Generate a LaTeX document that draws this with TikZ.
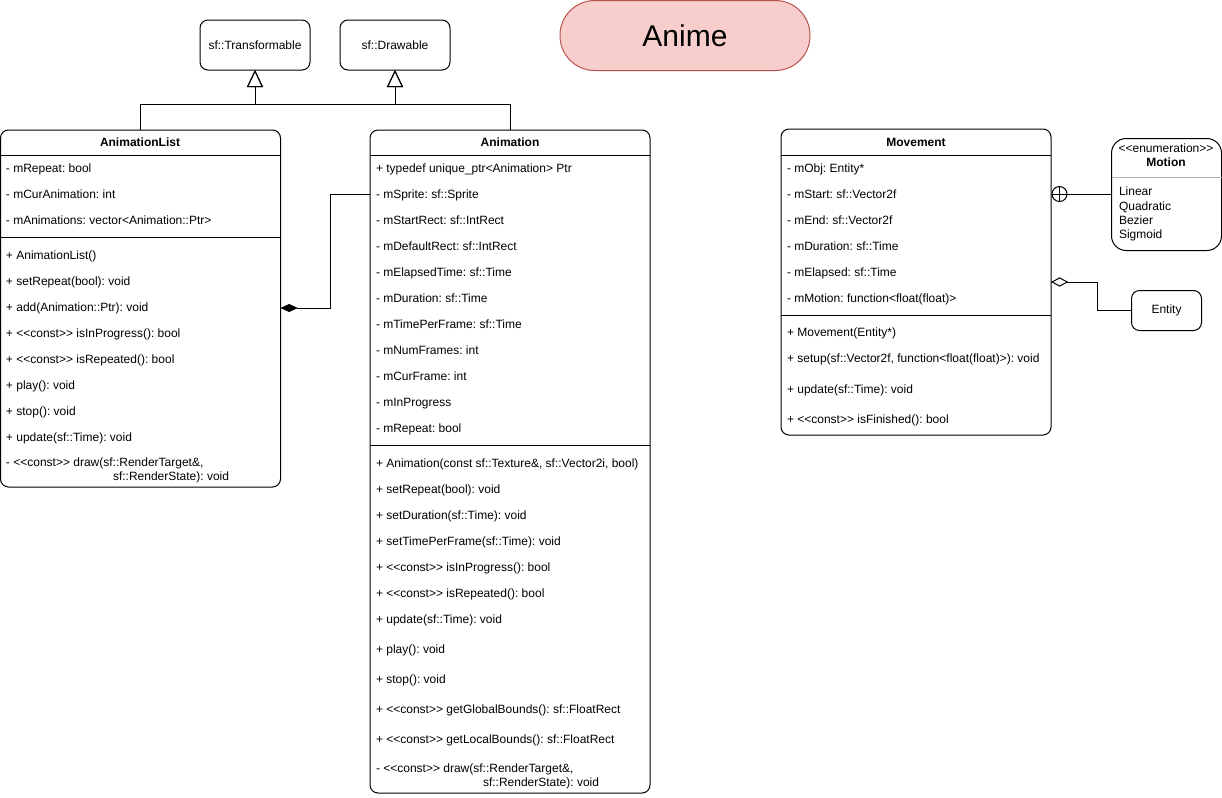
\documentclass[tikz,border=0pt]{standalone}
\usepackage{fontspec}
\setmainfont{Liberation Sans}[Ligatures=TeXOff]
\usetikzlibrary{arrows.meta}
\definecolor{animefill}{HTML}{F8CECC}
\definecolor{animedraw}{HTML}{B85450}
\definecolor{sepgrey}{HTML}{B3B3B3}
\frenchspacing
\begin{document}
\begin{tikzpicture}[x=0.75pt,y=-0.75pt,line width=0.75pt,
  every node/.style={inner sep=0pt,outer sep=0pt},
  boxnode/.style={draw,rounded corners=6pt,anchor=north west,font=\fontsize{9pt}{11pt}\selectfont},
  member/.style={anchor=base west,yshift=-3.3pt,font=\fontsize{9pt}{11pt}\selectfont},
  classtitle/.style={anchor=base,yshift=-3.3pt,font=\fontsize{9pt}{11pt}\selectfont\bfseries},
  inherit/.style={-{Triangle[open,length=12.75pt,width=12pt]}},
  compose/.style={-{Diamond[fill=black,length=13pt,width=6pt]}},
  aggregate/.style={-{Diamond[open,fill=white,length=13pt,width=7pt]}}]
\useasboundingbox (0,0) rectangle (1222,797);

% base classes
\node[boxnode,minimum width=82.5pt,minimum height=37.5pt] (T) at (200,20) {};
\node (Tl) at (T.center) [font=\fontsize{9pt}{11pt}\selectfont] {sf::Transformable};
\node[boxnode,minimum width=82.5pt,minimum height=37.5pt] (D) at (340,20) {};
\node (Dl) at (D.center) [font=\fontsize{9pt}{11pt}\selectfont] {sf::Drawable};

% title
\node[draw=animedraw,fill=animefill,rounded corners=26pt,anchor=north west,minimum width=187.5pt,minimum height=52.5pt] (Anime) at (560,0.5) {};
\node (Animel) at (Anime.center) [font=\fontsize{22.5pt}{26pt}\selectfont] {Anime};

% AnimationList
\node[boxnode,minimum width=210pt,minimum height=267.75pt] (AL) at (0.5,130) {};
\node[classtitle] (ALt) at (140,142) {AnimationList};
\draw (0.5,155) -- (280.5,155);
\draw (0.5,237) -- (280.5,237);
\foreach \t [count=\i] in {{- mRepeat: bool},{- mCurAnimation: int},{- mAnimations: vector<Animation::Ptr>}}
  \node[member] (ALa\i) at (6,142+26*\i) {\t};
\foreach \t [count=\i] in {{+ AnimationList()},{+ setRepeat(bool): void},{+ add(Animation::Ptr): void},{+ <<const>> isInProgress(): bool},{+ <<const>> isRepeated(): bool},{+ play(): void},{+ stop(): void},{+ update(sf::Time): void}}
  \node[member] (ALm\i) at (6,229+26*\i) {\t};
\node[member] (ALm9) at (6,462) {- <<const>> draw(sf::RenderTarget\&,};
\node[member] (ALm10) at (113,476) {sf::RenderState): void};

% Animation
\node[boxnode,minimum width=210pt,minimum height=497.25pt] (A) at (370,130) {};
\node[classtitle] (At) at (510,142) {Animation};
\draw (370,155) -- (650,155);
\draw (370,445) -- (650,445);
\foreach \t [count=\i] in {{+ typedef unique\_ptr<Animation> Ptr},{- mSprite: sf::Sprite},{- mStartRect: sf::IntRect},{- mDefaultRect: sf::IntRect},{- mElapsedTime: sf::Time},{- mDuration: sf::Time},{- mTimePerFrame: sf::Time},{- mNumFrames: int},{- mCurFrame: int},{- mInProgress},{- mRepeat: bool}}
  \node[member] (Aa\i) at (376,142+26*\i) {\t};
\foreach \t [count=\i] in {{+ Animation(const sf::Texture\&, sf::Vector2i, bool)},{+ setRepeat(bool): void},{+ setDuration(sf::Time): void},{+ setTimePerFrame(sf::Time): void},{+ <<const>> isInProgress(): bool},{+ <<const>> isRepeated(): bool},{+ update(sf::Time): void}}
  \node[member] (Am\i) at (376,437+26*\i) {\t};
\foreach \t [count=\i] in {{+ play(): void},{+ stop(): void},{+ <<const>> getGlobalBounds(): sf::FloatRect},{+ <<const>> getLocalBounds(): sf::FloatRect}}
  \node[member] (Amb\i) at (376,619+30*\i) {\t};
\node[member] (Amc1) at (376,768) {- <<const>> draw(sf::RenderTarget\&,};
\node[member] (Amc2) at (483,782) {sf::RenderState): void};

% Movement
\node[boxnode,minimum width=202.5pt,minimum height=229.5pt] (M) at (781,129) {};
\node[classtitle] (Mt) at (916,142) {Movement};
\draw (781,155) -- (1051,155);
\draw (781,315) -- (1051,315);
\foreach \t [count=\i] in {{- mObj: Entity*},{- mStart: sf::Vector2f},{- mEnd: sf::Vector2f},{- mDuration: sf::Time},{- mElapsed: sf::Time},{- mMotion: function<float(float)>}}
  \node[member] (Ma\i) at (787,142+26*\i) {\t};
\node[member] (Mm1) at (787,332) {+ Movement(Entity*)};
\node[member] (Mm2) at (787,358) {+ setup(sf::Vector2f, function<float(float)>): void};
\node[member] (Mm3) at (787,389) {+ update(sf::Time): void};
\node[member] (Mm4) at (787,419) {+ <<const>> isFinished(): bool};

% Motion enumeration
\node[boxnode,rounded corners=11pt,minimum width=82.5pt,minimum height=84pt] (Mo) at (1111.5,138.5) {};
\node[classtitle,font=\fontsize{9pt}{11pt}\selectfont\mdseries] (Mo1) at (1166,148) {<<enumeration>>};
\node[classtitle] (Mo2) at (1166,162) {Motion};
\draw[sepgrey] (1111.5,177) -- (1221.5,177);
\foreach \t [count=\i] in {Linear,Quadratic,Bezier,Sigmoid}
  \node[member] (Moi\i) at (1119,177+14.3*\i) {\t};

% Entity
\node[boxnode,minimum width=52.5pt,minimum height=30pt] (E) at (1131.5,290.5) {};
\node (El) at (E.center) [font=\fontsize{9pt}{11pt}\selectfont] {Entity};

% inheritance
\coordinate (jl) at (140,104);
\coordinate (jr) at (510,104);
\draw[inherit] (AL.north -| jl) -- (jl) -| (T.south);
\draw[inherit] (AL.north -| jl) -- (jl) -| (D.south);
\draw[inherit] (A.north -| jr) -- (jr) -| (D.south);
\draw[inherit] (A.north -| jr) -- (jr) -| (T.south);

% composition
\coordinate (c1) at (330,194);
\coordinate (c2) at (330,308);
\draw[compose] (370,194) -- (c1) -- (c2) -- (AL.east |- c2);

% nesting
\node[draw,circle,minimum size=11.25pt] (cp) at (1059.5,194) {};
\draw (cp.north) -- (cp.south) (cp.west) -- (cp.east);
\draw (Mo.west |- cp) -- (cp.east);

% aggregation
\coordinate (g1) at (1097,310);
\coordinate (g2) at (1097,282);
\draw[aggregate] (E.west |- g1) -- (g1) -- (g2) -- (M.east |- g2);
\end{tikzpicture}
\end{document}
